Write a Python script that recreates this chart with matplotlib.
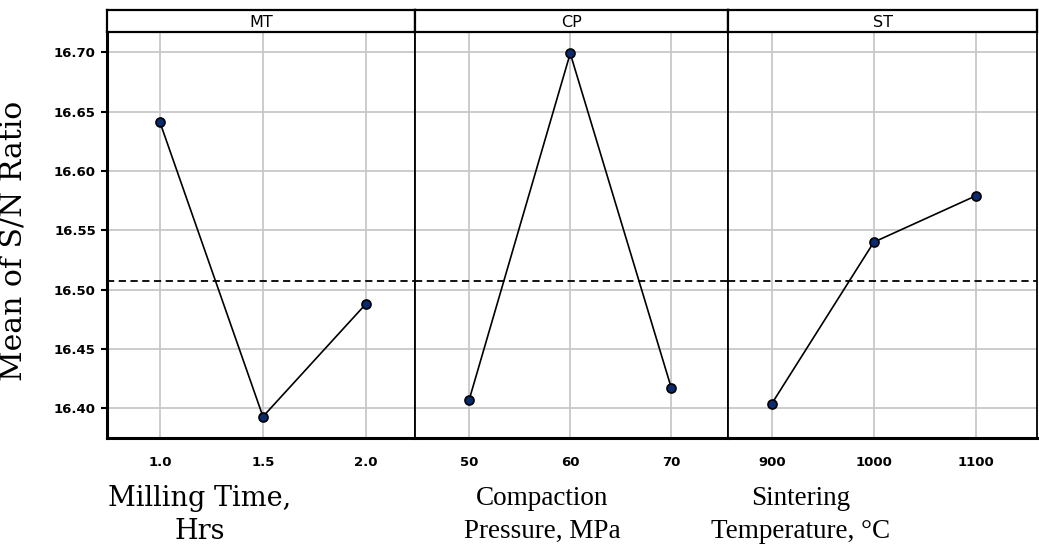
import matplotlib
matplotlib.use("Agg")
import matplotlib.pyplot as plt
import numpy as np

panels = ["MT", "CP", "ST"]
levels_mt = [1.0, 1.5, 2.0]
levels_cp = [50, 60, 70]
levels_st = [900, 1000, 1100]
sn_mt = [16.641, 16.393, 16.488]
sn_cp = [16.407, 16.699, 16.417]
sn_st = [16.404, 16.540, 16.579]
tick_mt = ["1.0", "1.5", "2.0"]
tick_cp = ["50", "60", "70"]
tick_st = ["900", "1000", "1100"]
y_ticks = [16.40, 16.45, 16.50, 16.55, 16.60, 16.65, 16.70]
xlabels = ["Milling Time,\nHrs", "Compaction\nPressure, MPa", "Sintering\nTemperature, \u00b0C"]

overall_mean = np.mean(sn_mt + sn_cp + sn_st)

W, H = 1039, 545
fig = plt.figure(figsize=(W / 100, H / 100), dpi=100)

edges = [107, 415, 728, 1037]
top_px, bot_px, strip_top = 32, 438, 10
data = [(levels_mt, sn_mt, tick_mt), (levels_cp, sn_cp, tick_cp), (levels_st, sn_st, tick_st)]
xlims = [(0.743, 2.238), (44.65, 75.6), (857, 1160)]
label_cx = [200, 542, 801]
label_font = ["DejaVu Serif", "Liberation Serif", "Liberation Serif"]
label_top = [485, 486, 486]
label_ls = [1.3, 1.42, 1.42]

for i, (lv, sn, tl) in enumerate(data):
    l, r = edges[i], edges[i + 1]
    ax = fig.add_axes([l / W, 1 - bot_px / H, (r - l) / W, (bot_px - top_px) / H])
    ax.set_xlim(*xlims[i])
    ax.set_ylim(16.375, 16.717)
    ax.grid(True, color="#c8c8c8", linewidth=1.3, zorder=0)
    ax.set_axisbelow(True)
    ax.axhline(overall_mean, color="black", linestyle=(0, (4, 2.5)), linewidth=1.3, zorder=2)
    ax.plot(lv, sn, color="black", linewidth=1.2, marker="o", markersize=6.5,
            markerfacecolor="#0a2a6e", markeredgecolor="black", markeredgewidth=1.2, zorder=3)
    ax.set_xticks(lv)
    ax.set_xticklabels(tl, fontsize=9.5, fontweight="bold")
    ax.tick_params(axis="x", length=0, pad=13)
    ax.set_yticks(y_ticks)
    if i == 0:
        ax.set_yticklabels([f"{v:.2f}" for v in y_ticks], fontsize=9.5, fontweight="bold")
        ax.tick_params(axis="y", length=4, width=1.5, pad=4)
        ax.spines["left"].set_linewidth(2.2)
    else:
        ax.tick_params(axis="y", length=0, labelleft=False)
        ax.spines["left"].set_linewidth(1.3)
    ax.spines["bottom"].set_linewidth(2.2)
    ax.spines["right"].set_linewidth(1.3)
    ax.spines["top"].set_linewidth(1.3)
    # strip
    sax = fig.add_axes([l / W, 1 - top_px / H, (r - l) / W, (top_px - strip_top) / H])
    sax.set_xticks([]); sax.set_yticks([])
    for s in sax.spines.values():
        s.set_linewidth(1.6)
    sax.text(0.5, 0.1, panels[i], transform=sax.transAxes, ha="center", va="bottom", fontsize=11.5)
    fig.text(label_cx[i] / W, 1 - label_top[i] / H, xlabels[i], ha="center", va="top",
             fontsize=19.5, family=label_font[i], linespacing=label_ls[i])

fig.text(14 / W, 1 - 241 / H, "Mean of S/N Ratio", rotation=90, ha="center", va="center",
         fontsize=21.5, family="DejaVu Serif")

fig.savefig("out.png", dpi=100)
